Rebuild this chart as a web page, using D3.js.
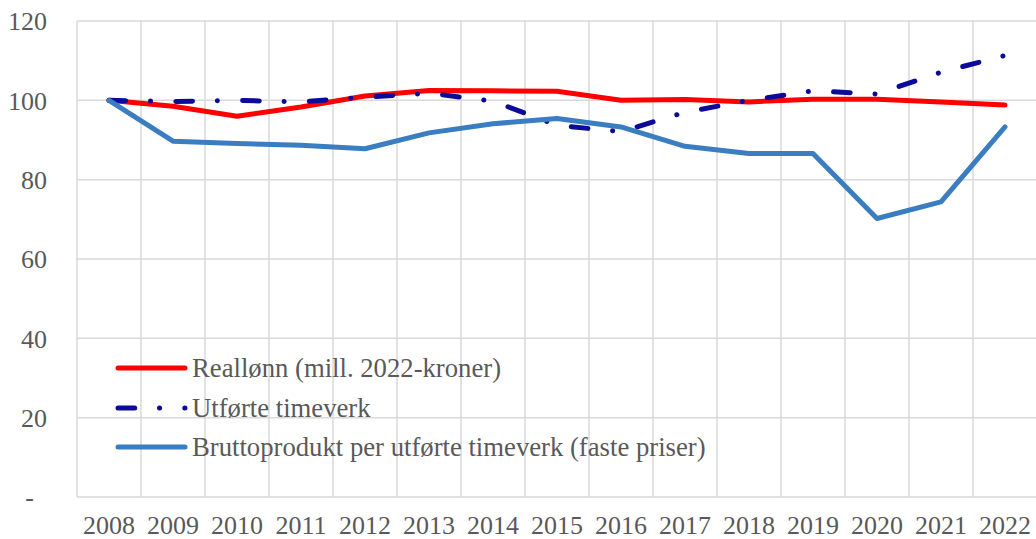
<!DOCTYPE html>
<html>
<head>
<meta charset="utf-8">
<script src="https://cdn.jsdelivr.net/npm/d3@7"></script>
<style>
	body { margin: 0; background: #ffffff; }
	svg { display: block; font-family: "Liberation Serif", "Times New Roman", serif; }
</style>
</head>
<body>
<div id="chart"></div>
<script>
"use strict";

//********************************* DATA *********************************
var years = ["2008","2009","2010","2011","2012","2013","2014","2015","2016","2017","2018","2019","2020","2021","2022"];
var reallonn = [100, 98.5, 96.0, 98.3, 101.1, 102.5, 102.4, 102.3, 100.0, 100.2, 99.6, 100.3, 100.3, 99.6, 98.8];
var timeverk = [100, 99.7, 100.0, 99.6, 100.8, 101.8, 99.8, 93.7, 92.1, 97.0, 100.0, 102.4, 101.6, 107.1, 111.3];
var brutto = [100, 89.7, 89.1, 88.7, 87.8, 91.8, 94.1, 95.4, 93.3, 88.4, 86.6, 86.6, 70.2, 74.4, 93.3];
var yTicks = [0, 20, 40, 60, 80, 100, 120];
var seriesNames = ["Reallønn (mill. 2022-kroner)", "Utførte timeverk", "Bruttoprodukt per utførte timeverk (faste priser)"];

//********************************* LAYOUT *********************************
var width = 1036, height = 539;
var plotLeft = 77, plotRight = 1037, plotTop = 21, plotBottom = 497;
var gridColor = "#d9d9d9";
var textColor = "#595959";

var svg = d3.select("#chart").append("svg")
	.attr("width", width)
	.attr("height", height);

var x = d3.scaleBand().domain(years).range([plotLeft, plotRight]);
var y = d3.scaleLinear().domain([0, 120]).range([plotBottom, plotTop]);

//********************************* GRID *********************************
//vertical lines sit on the category boundaries
var bounds = years.map(function(d){ return x(d); }).concat([plotRight]);
svg.append("g").selectAll("line")
	.data(bounds)
	.enter().append("line")
		.attr("x1", function(d){ return d; })
		.attr("x2", function(d){ return d; })
		.attr("y1", plotTop)
		.attr("y2", plotBottom)
		.attr("stroke", gridColor)
		.attr("stroke-width", 1.5);

svg.append("g").selectAll("line")
	.data(yTicks)
	.enter().append("line")
		.attr("x1", plotLeft)
		.attr("x2", plotRight)
		.attr("y1", function(d){ return y(d); })
		.attr("y2", function(d){ return y(d); })
		.attr("stroke", gridColor)
		.attr("stroke-width", 1.5);

//********************************* AXES *********************************
var yAxis = d3.axisLeft(y)
	.tickValues(yTicks)
	.tickSize(0)
	.tickPadding(30)
	.tickFormat(function(d){ return d === 0 ? "-" : d; });

var gy = svg.append("g").attr("transform", "translate(" + plotLeft + ",0)").call(yAxis);
gy.select(".domain").remove();
gy.selectAll("text")
	.attr("fill", textColor)
	.attr("font-size", "26px")
	.attr("font-family", "Liberation Serif")
	.attr("dy", "0.34em")
	.attr("x", function(d){ return d === 0 ? -43 : -30; });

var xAxis = d3.axisBottom(x).tickSize(0).tickPadding(0);
var gx = svg.append("g").attr("transform", "translate(0," + plotBottom + ")").call(xAxis);
gx.select(".domain").remove();
gx.selectAll("text")
	.attr("fill", textColor)
	.attr("font-size", "26px")
	.attr("font-family", "Liberation Serif")
	.attr("y", 37)
	.attr("dy", null);

//********************************* LINES *********************************
var line = d3.line()
	.x(function(d, i){ return x(years[i]) + x.bandwidth() / 2; })
	.y(function(d){ return y(d); });

var series = [
	{ name: seriesNames[0], values: reallonn, color: "#ff0000", dash: null },
	{ name: seriesNames[1], values: timeverk, color: "#0c0a98", dash: "16.7 24.8 0.1 25.2" },
	{ name: seriesNames[2], values: brutto, color: "#3a7dc0", dash: null }
];

series.forEach(function(s){
	svg.append("path")
		.datum(s.values)
		.attr("d", line)
		.attr("fill", "none")
		.attr("stroke", s.color)
		.attr("stroke-width", 5)
		.attr("stroke-linejoin", "round")
		.attr("stroke-linecap", "round")
		.attr("stroke-dasharray", s.dash);
});

//********************************* LEGEND *********************************
var legendY = [368, 408, 447];
var legend = svg.append("g");
series.forEach(function(s, i){
	legend.append("line")
		.attr("x1", 118)
		.attr("x2", 185)
		.attr("y1", legendY[i])
		.attr("y2", legendY[i])
		.attr("stroke", s.color)
		.attr("stroke-width", 5)
		.attr("stroke-linecap", "round")
		.attr("stroke-dasharray", s.dash);
	legend.append("text")
		.attr("x", 192)
		.attr("y", legendY[i])
		.attr("dy", "0.34em")
		.attr("fill", textColor)
		.attr("font-size", "26.7px")
		.text(s.name);
});
</script>
</body>
</html>
